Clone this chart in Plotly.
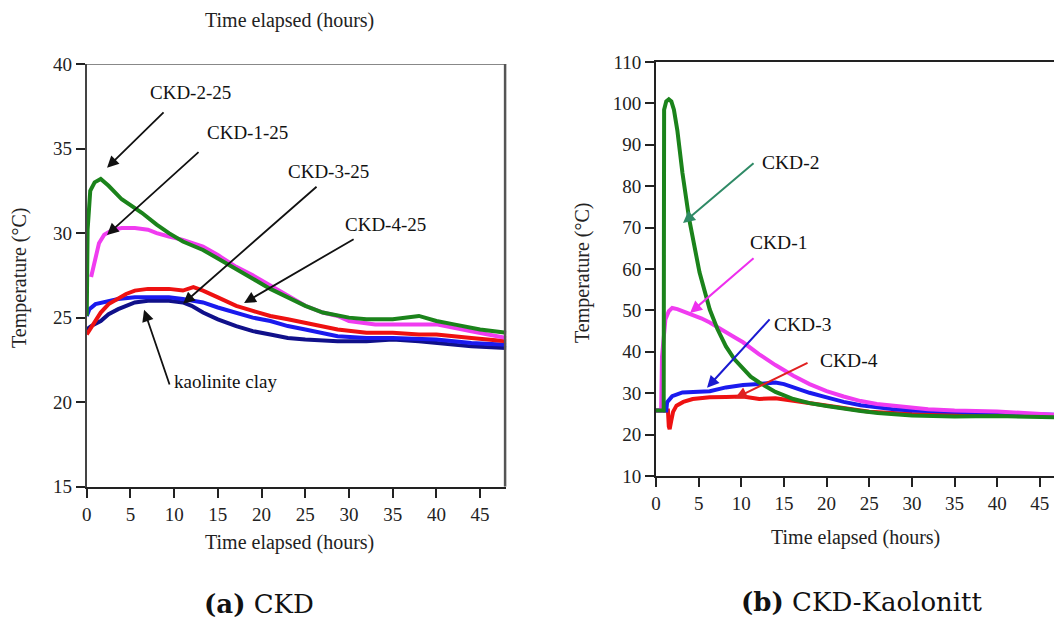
import plotly.graph_objects as go

# ---------------- (a) CKD data ----------------
a_ckd2_x = [0, 0.05, 0.1, 0.4, 0.9, 1.6, 2.5, 4, 6.3, 8, 9.4, 11, 13.3, 15, 17.1, 19, 21, 23, 25, 27, 28.7, 30, 32, 35, 38, 40, 42, 45, 48]
a_ckd2_y = [25.1, 29.5, 30.2, 32.5, 33.0, 33.2, 32.8, 32.0, 31.2, 30.5, 30.0, 29.5, 29.0, 28.5, 27.9, 27.3, 26.7, 26.2, 25.7, 25.3, 25.1, 25.0, 24.9, 24.9, 25.1, 24.8, 24.6, 24.3, 24.1]

a_ckd1_x = [0.5, 1.0, 1.4, 2, 3, 4, 5.5, 7, 8, 9.4, 11, 13.3, 15, 17.1, 19, 21, 23, 25, 27, 28.7, 30, 33, 36, 40, 44, 48]
a_ckd1_y = [27.4, 28.5, 29.4, 29.9, 30.2, 30.3, 30.3, 30.2, 30.0, 29.8, 29.6, 29.2, 28.7, 28.0, 27.5, 26.9, 26.3, 25.7, 25.3, 25.1, 24.8, 24.6, 24.6, 24.6, 24.2, 23.8]

a_ckd4_x = [0, 0.5, 1, 1.6, 2.5, 3.6, 4.5, 5.5, 7, 9.4, 11, 12.2, 13.3, 15, 17.1, 19, 21, 23, 25, 28.7, 32, 35, 38, 40, 44, 48]
a_ckd4_y = [24.0, 24.4, 24.8, 25.3, 25.8, 26.1, 26.4, 26.6, 26.7, 26.7, 26.6, 26.8, 26.6, 26.2, 25.7, 25.4, 25.1, 24.9, 24.7, 24.3, 24.1, 24.1, 24.0, 24.0, 23.8, 23.6]

a_ckd3_x = [0, 0.3, 1, 2, 3.6, 5.5, 7, 9.4, 11, 13.3, 15, 17.1, 19, 21, 23, 25, 28.7, 32, 35, 40, 44, 48]
a_ckd3_y = [25.1, 25.5, 25.8, 25.9, 26.1, 26.2, 26.2, 26.2, 26.1, 25.9, 25.6, 25.3, 25.0, 24.8, 24.5, 24.3, 23.9, 23.8, 23.8, 23.7, 23.5, 23.4]

a_kao_x = [0, 0.5, 1.6, 2.5, 3.6, 4.5, 5.5, 7, 9.4, 11, 12, 13.3, 15, 17.1, 19, 21, 23, 25, 28.7, 32, 35, 38, 40, 44, 48]
a_kao_y = [24.3, 24.5, 24.8, 25.2, 25.5, 25.7, 25.9, 26.0, 26.0, 25.9, 25.7, 25.3, 24.9, 24.5, 24.2, 24.0, 23.8, 23.7, 23.6, 23.6, 23.7, 23.6, 23.5, 23.3, 23.2]

a_xticks = [0, 5, 10, 15, 20, 25, 30, 35, 40, 45]
a_yticks = [15, 20, 25, 30, 35, 40]

# ---------------- (b) CKD-Kaolonitt data ----------------
b_ckd2_x = [0, 0.9, 0.95, 1.2, 1.5, 1.8, 2.1, 2.5, 3.1, 3.9, 5.1, 6.3, 7.2, 8.2, 9.2, 10.2, 11.1, 12.1, 14, 16.1, 18, 20, 22, 24, 26, 27.9, 30, 35, 40, 46.7]
b_ckd2_y = [25.8, 25.8, 98.5, 100.5, 101, 100.5, 98.5, 93.5, 83.2, 71.9, 59.2, 50.2, 45.5, 41.3, 38.2, 35.8, 34.0, 32.6, 30.3, 28.6, 27.6, 26.9, 26.2, 25.7, 25.2, 24.9, 24.6, 24.4, 24.5, 24.2]

b_ckd1_x = [0, 0.6, 0.7, 0.9, 1.1, 1.5, 1.9, 2.5, 3.2, 4.3, 5.3, 6.3, 7.2, 8.2, 9.2, 10.2, 11.1, 12.1, 14, 16.1, 18, 20, 22, 24, 25.9, 27.9, 30, 31.9, 35, 40, 46.7]
b_ckd1_y = [25.8, 25.8, 38.7, 44, 47.8, 49.8, 50.6, 50.3, 49.8, 49, 48.1, 47.1, 45.9, 44.7, 43.5, 42.3, 40.9, 39.4, 36.8, 34.2, 32.2, 30.5, 29.2, 28.1, 27.4, 26.9, 26.4, 26.1, 25.8, 25.6, 24.8]

b_ckd3_x = [0, 1.2, 1.3, 1.9, 3.1, 4.5, 6.3, 8.2, 10.2, 12.1, 14, 15, 16.1, 18, 20, 22, 24, 25.9, 27.9, 30, 35, 40, 46.7]
b_ckd3_y = [25.8, 25.8, 27.8, 29.3, 30.2, 30.3, 30.5, 31.4, 32.0, 32.2, 32.6, 32.2, 31.4, 30.1, 29.0, 27.9, 27.1, 26.6, 26.1, 25.8, 25.4, 25.2, 24.8]

b_ckd4_x = [0, 1.4, 1.5, 1.6, 1.8, 2.0, 2.4, 3.2, 4.3, 6.3, 8.2, 10.2, 12.1, 14, 16.1, 18, 20, 22, 25, 30, 35, 40, 46.7]
b_ckd4_y = [25.8, 25.8, 22, 21.3, 23.5, 25.5, 27.0, 27.9, 28.6, 29.0, 29.1, 29.2, 28.6, 28.8, 28.2, 27.6, 27.0, 26.3, 25.5, 25.0, 24.8, 24.6, 24.5]

b_xticks = [0, 5, 10, 15, 20, 25, 30, 35, 40, 45]
b_yticks = [10, 20, 30, 40, 50, 60, 70, 80, 90, 100, 110]

GREEN = "#1b831b"
MAGENTA = "#f03cf0"
RED = "#ee1111"
BLUE = "#1a1aee"
NAVY = "#10108a"

SERIF = "Liberation Serif"

fig = go.Figure()

def add(x, y, color, xa, ya, w=4):
    fig.add_trace(go.Scatter(x=x, y=y, mode="lines", line=dict(color=color, width=w),
                             xaxis=xa, yaxis=ya, showlegend=False, hoverinfo="skip"))

# panel (a)
add(a_kao_x, a_kao_y, NAVY, "x", "y")
add(a_ckd3_x, a_ckd3_y, BLUE, "x", "y")
add(a_ckd4_x, a_ckd4_y, RED, "x", "y")
add(a_ckd1_x, a_ckd1_y, MAGENTA, "x", "y")
add(a_ckd2_x, a_ckd2_y, GREEN, "x", "y")

# panel (b)
add(b_ckd4_x, b_ckd4_y, RED, "x2", "y2")
add(b_ckd3_x, b_ckd3_y, BLUE, "x2", "y2")
add(b_ckd1_x, b_ckd1_y, MAGENTA, "x2", "y2")
add(b_ckd2_x, b_ckd2_y, GREEN, "x2", "y2")

tickfont = dict(family=SERIF, size=19, color="#222")
common = dict(showgrid=False, zeroline=False, showline=True, linewidth=2, automargin=False,
              ticks="outside", ticklen=9, tickwidth=1.5, tickcolor="#222", tickfont=tickfont)

fig.update_layout(
    template="none",
    width=1054, height=619,
    margin=dict(l=0, r=0, t=0, b=0, pad=0, autoexpand=False),
    paper_bgcolor="white", plot_bgcolor="white",
    xaxis=dict(domain=[0.0823, 0.4804], range=[0, 48], tickvals=a_xticks,
               linecolor="#222", anchor="y", **common),
    yaxis=dict(domain=[0.2137, 0.8966], range=[15, 40], tickvals=a_yticks,
               linecolor="#444", anchor="x", **common),
    xaxis2=dict(domain=[0.6224, 1.0], range=[0, 46.66], tickvals=b_xticks,
                linecolor="#222", mirror=True, anchor="y2", **common),
    yaxis2=dict(domain=[0.2310, 0.8998], range=[10, 110], tickvals=b_yticks,
                linecolor="#222", anchor="x2", **common),
)

# frame of panel (a): thin top line, thick right border
fig.add_shape(type="line", xref="x", yref="y", x0=0, x1=48, y0=40, y1=40,
              line=dict(color="#888", width=2))
fig.add_shape(type="line", xref="x", yref="y", x0=48, x1=48, y0=15, y1=40,
              line=dict(color="#555", width=5))

ann = []
lab = dict(family=SERIF, size=19, color="#111")

# panel (a) arrows (head -> x,y ; tail -> ax,ay)
a_arrows = [
    (2.32, 33.86, 8.96, 37.23),
    (2.32, 29.89, 12.96, 34.87),
    (11.02, 25.82, 26.46, 32.82),
    (18.0, 25.87, 30.70, 29.69),
    (6.56, 25.46, 9.53, 20.96),
]
for hx, hy, tx, ty in a_arrows:
    ann.append(dict(xref="x", yref="y", axref="x", ayref="y", x=hx, y=hy, ax=tx, ay=ty,
                    text="", showarrow=True, arrowhead=2, arrowsize=1.3, arrowwidth=1.8,
                    arrowcolor="#111"))
a_labels = [
    ("CKD-2-25", 11.82, 38.29, "center"),
    ("CKD-1-25", 18.34, 35.92, "center"),
    ("CKD-3-25", 27.6, 33.62, "center"),
    ("CKD-4-25", 34.13, 30.48, "center"),
    ("kaolinite clay", 9.76, 21.2, "left"),
]
for t, x, y, xa in a_labels:
    ann.append(dict(xref="x", yref="y", x=x, y=y, text=t, showarrow=False,
                    xanchor=xa, yanchor="middle", font=lab))

# panel (b) arrows
b_arrows = [
    (3.17, 71.1, 11.61, 85.85, "#2f8a66"),
    (3.99, 49.4, 11.61, 62.9, "#ee2fee"),
    (5.98, 31.3, 13.48, 48.2, "#1a1ad0"),
    (9.26, 28.8, 17.94, 37.5, "#e02020"),
]
for hx, hy, tx, ty, c in b_arrows:
    ann.append(dict(xref="x2", yref="y2", axref="x2", ayref="y2", x=hx, y=hy, ax=tx, ay=ty,
                    text="", showarrow=True, arrowhead=2, arrowsize=1.2, arrowwidth=2,
                    arrowcolor=c))
lab2 = dict(family=SERIF, size=19.5, color="#111")
b_labels = [
    ("CKD-2", 12.19, 85.85),
    ("CKD-1", 10.79, 66.3),
    ("CKD-3", 13.6, 46.5),
    ("CKD-4", 19.0, 38.0),
]
for t, x, y in b_labels:
    ann.append(dict(xref="x2", yref="y2", x=x, y=y, text=t, showarrow=False,
                    xanchor="left", yanchor="middle", font=lab2))

title_font = dict(family=SERIF, size=20, color="#222")
# axis titles and stray top title
ann += [
    dict(xref="paper", yref="paper", x=0.2751, y=0.9661, text="Time elapsed (hours)",
         showarrow=False, xanchor="center", yanchor="middle", font=title_font),
    dict(xref="paper", yref="paper", x=0.2751, y=0.1228, text="Time elapsed (hours)",
         showarrow=False, xanchor="center", yanchor="middle", font=title_font),
    dict(xref="paper", yref="paper", x=0.8112, y=0.1309, text="Time elapsed (hours)",
         showarrow=False, xanchor="center", yanchor="middle", font=title_font),
    dict(xref="paper", yref="paper", x=0.019, y=0.551, text="Temperature (°C)", textangle=-90,
         showarrow=False, xanchor="center", yanchor="middle", font=title_font),
    dict(xref="paper", yref="paper", x=0.5531, y=0.559, text="Temperature (°C)", textangle=-90,
         showarrow=False, xanchor="center", yanchor="middle", font=title_font),
    dict(xref="paper", yref="paper", x=0.2457, y=0.0242, text="<b>(a)</b> CKD",
         showarrow=False, xanchor="center", yanchor="middle",
         font=dict(family="DejaVu Serif", size=26, color="#111")),
    dict(xref="paper", yref="paper", x=0.8178, y=0.0275, text="<b>(b)</b> CKD-Kaolonitt",
         showarrow=False, xanchor="center", yanchor="middle",
         font=dict(family="DejaVu Serif", size=26, color="#111")),
]
fig.update_layout(annotations=ann)

fig.write_html("out.html", config={"displayModeBar": False},
               post_script="document.body.style.margin='0';document.body.style.padding='0';"
                           "document.body.style.overflow='hidden';")
